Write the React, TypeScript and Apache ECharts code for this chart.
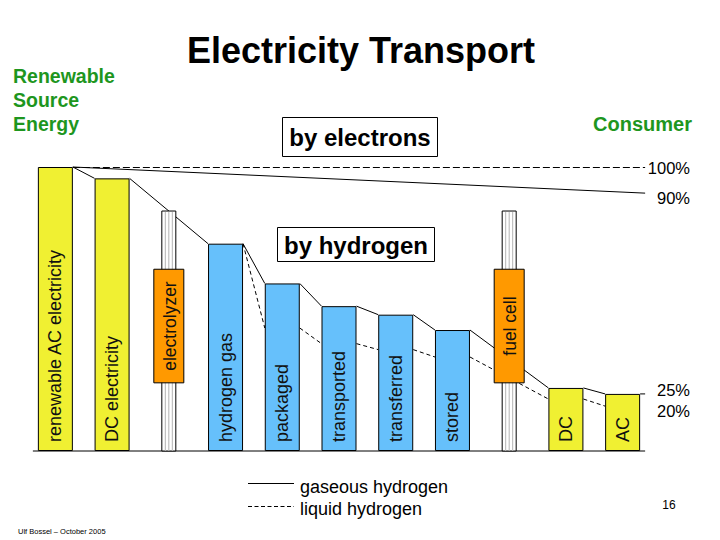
import React, { useEffect, useRef } from 'react';
import * as echarts from 'echarts';

// ---- data ----
const categories = [
  'renewable AC electricity',
  'DC electricity',
  'electrolyzer',
  'hydrogen gas',
  'packaged',
  'transported',
  'transferred',
  'stored',
  'fuel cell',
  'DC',
  'AC',
];
const stageKinds = [
  'electricity', 'electricity', 'converter', 'hydrogen', 'hydrogen', 'hydrogen',
  'hydrogen', 'hydrogen', 'converter', 'electricity', 'electricity',
];
// remaining energy (%) along the gaseous hydrogen path
const gaseousValues = [100, 96, null, 73, 59, 51, 48, 42.6, null, 22.2, 20.1];
// remaining energy (%) along the liquid hydrogen path
const liquidValues = [null, null, null, 73, 43.3, 37.8, 35.7, 33.1, null, 18.3, 15.8];
const converterTop = 84.5;
const converterBoxRange = [24, 64];
const electronsStart = 100;
const electronsEnd = 90.8;
const referenceLevel = 100;
const rightLabels = ['100%', '90%', '25%', '20%'];

const FONT = '"Liberation Sans", Arial, Helvetica, sans-serif';
const kindColors: Record<string, string> = {
  electricity: '#F0F032',
  hydrogen: '#66C0FB',
  converter: '#FF9900',
};
const GREEN = '#1E961E';
const HALF = 17.5;
const EXT = 5;

export default function App() {
  const ref = useRef<HTMLDivElement>(null);

  useEffect(() => {
    if (!ref.current) return;
    const chart = echarts.init(ref.current, undefined, { renderer: 'svg' });
    const n = categories.length;

    const barData = categories.map((c, i) =>
      stageKinds[i] === 'converter'
        ? null
        : { value: gaseousValues[i], itemStyle: { color: kindColors[stageKinds[i]] } }
    );

    const converterData = categories
      .map((c, i) => (stageKinds[i] === 'converter' ? [i, converterTop, converterBoxRange[0], converterBoxRange[1]] : null))
      .filter((d) => d !== null);

    const linesRender = (params: any, api: any) => {
      if (params.dataIndex !== 0) return;
      const cx = (i: number) => api.coord([i, 0])[0];
      const cy = (v: number) => api.coord([0, v])[1];
      const leftEnd = cx(0) - HALF - EXT;
      const rightEnd = cx(n - 1) + HALF + EXT;
      const children: any[] = [];
      const seg = (x1: number, y1: number, x2: number, y2: number, dash?: number[]) => {
        const style: any = { stroke: '#000', lineWidth: 1, fill: null };
        if (dash) style.lineDash = dash;
        children.push({ type: 'line', shape: { x1, y1, x2, y2 }, style, silent: true });
      };
      seg(leftEnd, cy(0), rightEnd, cy(0));
      const chain = (vals: (number | null)[], dash: number[] | undefined, extend: boolean) => {
        let prev = -1;
        vals.forEach((v, i) => {
          if (v == null) return;
          if (prev >= 0) seg(cx(prev) + HALF, cy(vals[prev] as number), cx(i) - HALF, cy(v), dash);
          prev = i;
        });
        if (extend && prev >= 0) seg(cx(prev) + HALF, cy(vals[prev] as number), rightEnd, cy(vals[prev] as number), dash);
      };
      chain(gaseousValues, undefined, true);
      chain(liquidValues, [4, 3], false);
      seg(cx(0) + HALF, cy(referenceLevel) + 0.5, rightEnd, cy(referenceLevel) + 0.5, [7, 3]);
      seg(cx(0) + HALF, cy(electronsStart), rightEnd, cy(electronsEnd));
      return { type: 'group', children };
    };

    const converterRender = (params: any, api: any) => {
      const i = api.value(0);
      const [x, yTop] = api.coord([i, api.value(1)]);
      const yBase = api.coord([i, 0])[1];
      const yLo = api.coord([i, api.value(2)])[1];
      const yHi = api.coord([i, api.value(3)])[1];
      const pw = 14;
      const bw = 30;
      const children: any[] = [
        {
          type: 'rect',
          shape: { x: x - pw / 2, y: yTop, width: pw, height: yBase - yTop },
          style: { fill: '#fff', stroke: '#000', lineWidth: 1 },
        },
      ];
      [-3.5, 0, 3.5].forEach((dx) =>
        children.push({
          type: 'line',
          shape: { x1: x + dx, y1: yTop + 1, x2: x + dx, y2: yBase },
          style: { stroke: '#b4b4b4', lineWidth: 1 },
        })
      );
      children.push({
        type: 'rect',
        shape: { x: x - bw / 2, y: yHi, width: bw, height: yLo - yHi },
        style: { fill: kindColors.converter, stroke: '#000', lineWidth: 1 },
      });
      children.push({
        type: 'text',
        x: x + 1,
        y: (yHi + yLo) / 2,
        rotation: Math.PI / 2,
        style: {
          text: categories[i],
          fill: '#111',
          fontSize: 17.5,
          fontFamily: FONT,
          align: 'center',
          verticalAlign: 'middle',
        },
      });
      return { type: 'group', children };
    };

    const txt = (text: string, x: number, y: number, size: number, opts: any = {}) => ({
      type: 'text',
      x,
      y,
      silent: true,
      style: {
        text,
        fontSize: size,
        fontFamily: FONT,
        fontWeight: opts.bold ? 'bold' : 'normal',
        fill: opts.color || '#000',
        align: opts.align || 'left',
        verticalAlign: 'middle',
      },
    });

    const graphic: any[] = [
      txt('Electricity Transport', 361, 50, 36, { bold: true, align: 'center' }),
      txt('Renewable', 13, 76, 19.5, { bold: true, color: GREEN }),
      txt('Source', 13, 100, 19.5, { bold: true, color: GREEN }),
      txt('Energy', 13, 124, 19.5, { bold: true, color: GREEN }),
      txt('Consumer', 692, 124, 20, { bold: true, color: GREEN, align: 'right' }),
      {
        type: 'rect',
        shape: { x: 282.5, y: 117.5, width: 155, height: 39 },
        style: { fill: '#fff', stroke: '#000', lineWidth: 1 },
      },
      txt('by electrons', 360, 137, 24, { bold: true, align: 'center' }),
      {
        type: 'rect',
        shape: { x: 277.5, y: 227.5, width: 157, height: 34 },
        style: { fill: '#fff', stroke: '#000', lineWidth: 1 },
      },
      txt('by hydrogen', 356, 245, 24, { bold: true, align: 'center' }),
      txt(rightLabels[0], 690, 168, 16.5, { align: 'right' }),
      txt(rightLabels[1], 690, 198, 16.5, { align: 'right' }),
      txt(rightLabels[2], 690, 390, 16.5, { align: 'right' }),
      txt(rightLabels[3], 690, 411, 16.5, { align: 'right' }),
      {
        type: 'line',
        shape: { x1: 248, y1: 483.5, x2: 294, y2: 483.5 },
        style: { stroke: '#000', lineWidth: 1 },
      },
      {
        type: 'line',
        shape: { x1: 248, y1: 506.5, x2: 294, y2: 506.5 },
        style: { stroke: '#000', lineWidth: 1, lineDash: [4, 2.5] },
      },
      txt('gaseous hydrogen', 300, 487, 18),
      txt('liquid hydrogen', 300, 509, 18),
      txt('16', 669, 505, 12, { align: 'center' }),
      txt('Ulf Bossel – October 2005', 18, 531, 7.5),
    ];

    chart.setOption({
      animation: false,
      backgroundColor: '#fff',
      grid: { left: 27, right: 69, top: 167, bottom: 89 },
      xAxis: { type: 'category', data: categories, show: false },
      yAxis: { type: 'value', min: 0, max: 100, show: false },
      series: [
        {
          type: 'custom',
          name: 'paths',
          coordinateSystem: 'cartesian2d',
          renderItem: linesRender,
          data: [[0, 0]],
          encode: { x: 0, y: 1 },
          clip: false,
          silent: true,
          z: 1,
        },
        {
          type: 'bar',
          name: 'stages',
          data: barData,
          barWidth: 35,
          z: 3,
          itemStyle: { borderColor: '#000', borderWidth: 1 },
          label: {
            show: true,
            position: 'insideBottom',
            rotate: 90,
            align: 'left',
            verticalAlign: 'middle',
            distance: 8,
            offset: [1, 0],
            formatter: '{b}',
            fontSize: 18,
            fontFamily: FONT,
            color: '#111',
          },
        },
        {
          type: 'custom',
          name: 'converters',
          coordinateSystem: 'cartesian2d',
          renderItem: converterRender,
          data: converterData,
          encode: { x: 0, y: 1 },
          clip: false,
          silent: true,
          z: 4,
        },
      ],
      graphic,
    });

    return () => chart.dispose();
  }, []);

  return (
    <div
      ref={ref}
      style={{ position: 'fixed', left: 0, top: 0, width: 720, height: 540, background: '#fff' }}
    />
  );
}
